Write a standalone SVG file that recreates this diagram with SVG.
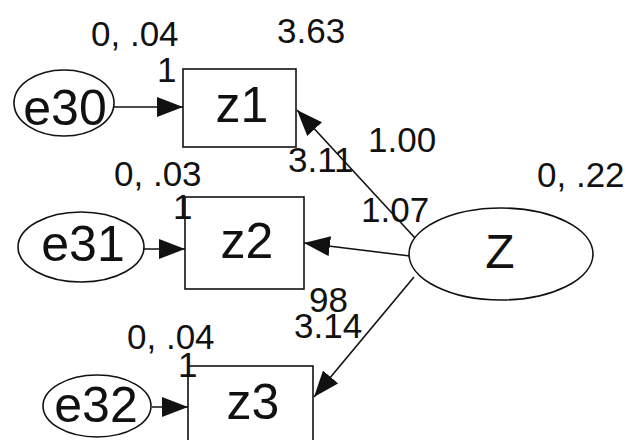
<svg xmlns="http://www.w3.org/2000/svg" width="627" height="440" viewBox="0 0 627 440">
<style>
.n{fill:#fff;stroke:#111;stroke-width:1.6}
.t{font-family:"Liberation Sans",Arial,sans-serif;font-size:50px;fill:#111;text-anchor:middle}
.l{font-family:"Liberation Sans",Arial,sans-serif;font-size:35px;fill:#111}
.c{stroke:#111;stroke-width:1.6;fill:none;marker-end:url(#ah)}
</style>
<defs>
<marker id="ah" markerWidth="26" markerHeight="20" refX="26" refY="10" orient="auto" markerUnits="userSpaceOnUse"><path d="M0,0 L26,10 L0,20 Z" fill="#111"/></marker>
</defs>
<rect width="627" height="440" fill="#fff"/>
<g id="connectors">
<path class="c" d="M114,107 L183,107"/>
<path class="c" d="M144,249 L185,249"/>
<path class="c" d="M152,407 L188,407"/>
<path class="c" d="M415,238 L297,110"/>
<path class="c" d="M410,256 L304,243"/>
<path class="c" d="M414,277 L314,397"/>
</g>
<g id="e30"><ellipse class="n" cx="64" cy="103" rx="50" ry="33"/><text class="t" x="65" y="125">e30</text><text class="l" x="91" y="46">0, .04</text></g>
<g id="z1"><rect class="n" x="183" y="69" width="113" height="78"/><text class="t" x="242" y="122">z1</text><text class="l" x="277" y="43">3.63</text></g>
<g id="e31"><ellipse class="n" cx="81" cy="247" rx="63" ry="35"/><text class="t" x="83" y="261">e31</text><text class="l" x="114" y="186">0, .03</text></g>
<g id="z2"><rect class="n" x="185" y="197" width="119" height="92"/><text class="t" x="247" y="258">z2</text><text class="l" x="288" y="172">3.11</text></g>
<g id="e32"><ellipse class="n" cx="97" cy="406" rx="54" ry="31"/><text class="t" x="96" y="422">e32</text><text class="l" x="127" y="349">0, .04</text></g>
<g id="z3"><rect class="n" x="188" y="366" width="125" height="80"/><text class="t" x="253" y="419">z3</text><text class="l" x="294" y="338">3.14</text></g>
<g id="Z"><ellipse class="n" cx="501" cy="254" rx="92" ry="46"/><text class="t" x="500" y="268" style="font-size:48px">Z</text><text class="l" x="537" y="187">0, .22</text></g>
<g id="labels">
<text class="l" x="157" y="82">1</text>
<text class="l" x="173" y="219">1</text>
<text class="l" x="178" y="377">1</text>
<text class="l" x="368" y="152">1.00</text>
<text class="l" x="361" y="222">1.07</text>
<text class="l" x="309" y="312">98</text>
</g>
</svg>
